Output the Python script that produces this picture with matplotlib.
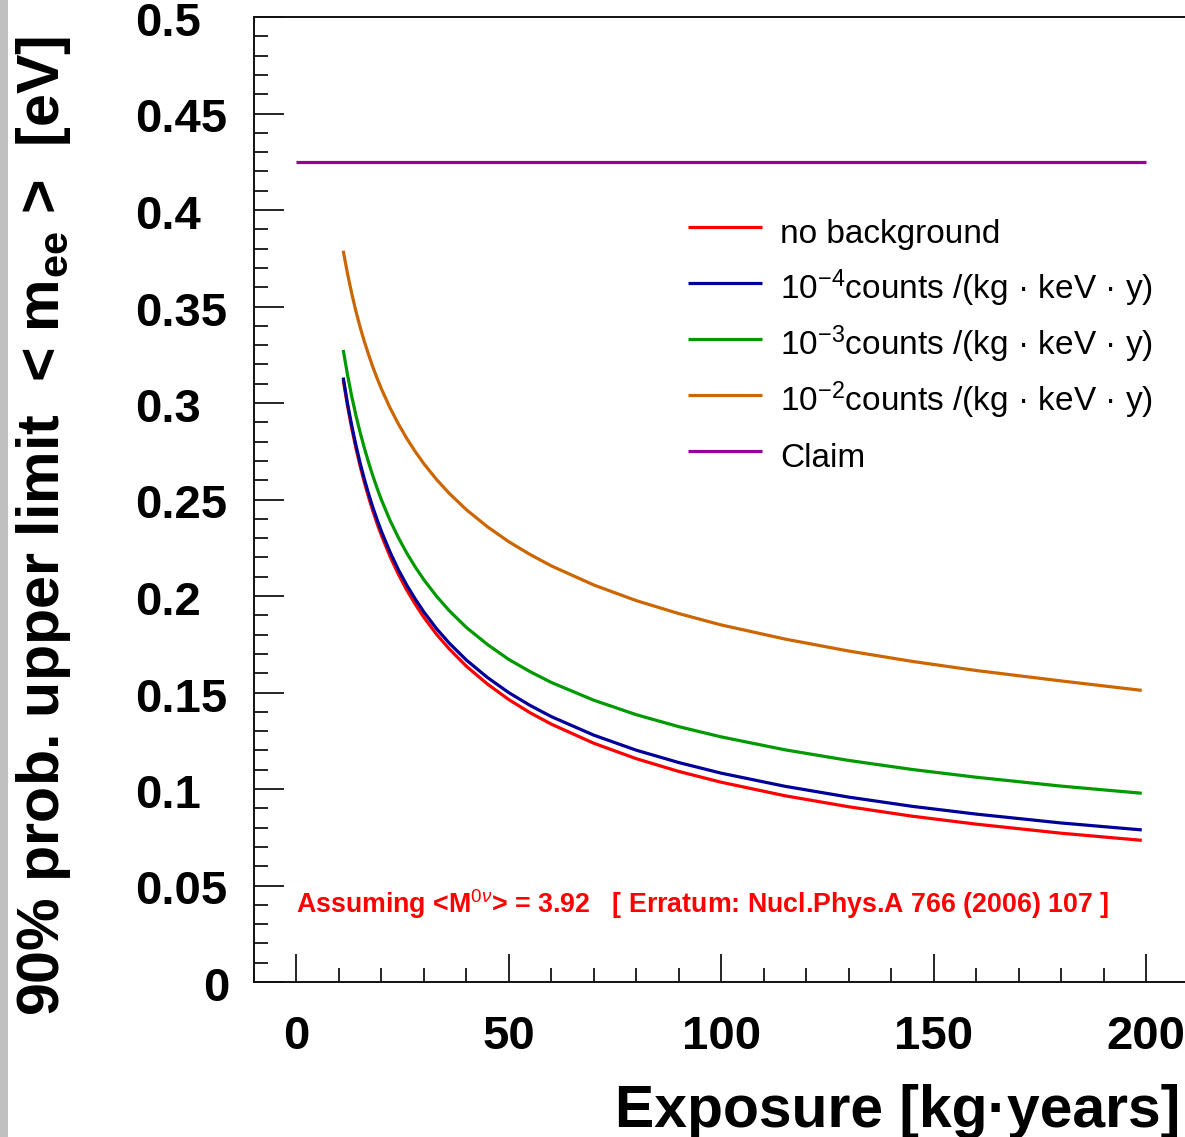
import matplotlib
matplotlib.use("Agg")
import matplotlib.pyplot as plt
import matplotlib.transforms as mtransforms
from matplotlib.patches import Rectangle
from matplotlib.ticker import MultipleLocator, FixedLocator

# ---------------- data ----------------
exposure = [11, 12, 13, 14, 15, 16, 17, 18, 19, 20, 22, 24, 26, 28, 30, 33, 36,
            40, 45, 50, 55, 60, 70, 80, 90, 100, 115, 130, 145, 160, 180, 199]
limit_no_bkg = [0.3120, 0.2987, 0.2870, 0.2766, 0.2672, 0.2587, 0.2510, 0.2439,
                0.2374, 0.2314, 0.2206, 0.2112, 0.2029, 0.1956, 0.1889, 0.1801,
                0.1725, 0.1636, 0.1543, 0.1463, 0.1395, 0.1336, 0.1237, 0.1157,
                0.1091, 0.1035, 0.0965, 0.0908, 0.0859, 0.0818, 0.0771, 0.0734]
limit_bkg_1e4 = [0.3132, 0.2999, 0.2884, 0.2781, 0.2688, 0.2604, 0.2528, 0.2458,
                 0.2394, 0.2335, 0.2229, 0.2136, 0.2055, 0.1983, 0.1917, 0.1830,
                 0.1755, 0.1668, 0.1577, 0.1499, 0.1433, 0.1375, 0.1279, 0.1201,
                 0.1137, 0.1082, 0.1014, 0.0958, 0.0910, 0.0870, 0.0824, 0.0788]
limit_bkg_1e3 = [0.3275, 0.3148, 0.3035, 0.2936, 0.2846, 0.2765, 0.2690, 0.2621,
                 0.2557, 0.2498, 0.2393, 0.2302, 0.2221, 0.2149, 0.2084, 0.1998,
                 0.1923, 0.1837, 0.1748, 0.1671, 0.1608, 0.1552, 0.1460, 0.1385,
                 0.1323, 0.1270, 0.1203, 0.1148, 0.1101, 0.1061, 0.1015, 0.0978]
limit_bkg_1e2 = [0.3789, 0.3672, 0.3568, 0.3475, 0.3392, 0.3317, 0.3249, 0.3185,
                 0.3127, 0.3073, 0.2976, 0.2891, 0.2815, 0.2747, 0.2685, 0.2603,
                 0.2531, 0.2447, 0.2358, 0.2281, 0.2215, 0.2156, 0.2057, 0.1976,
                 0.1909, 0.1850, 0.1777, 0.1715, 0.1661, 0.1614, 0.1560, 0.1511]
claim_exposure = [0, 200]
claim_limit = [0.425, 0.425]

series_labels = ["no background",
                 "10$^{-4}$counts /(kg · keV · y)",
                 "10$^{-3}$counts /(kg · keV · y)",
                 "10$^{-2}$counts /(kg · keV · y)",
                 "Claim"]
series_colors = ["#ff0000", "#000099", "#009900", "#cc6600", "#990099"]

x_ticks = [0, 50, 100, 150, 200]
x_tick_labels = ["0", "50", "100", "150", "200"]
y_ticks = [0, 0.05, 0.1, 0.15, 0.2, 0.25, 0.3, 0.35, 0.4, 0.45, 0.5]
y_tick_labels = ["0", "0.05", "0.1", "0.15", "0.2", "0.25", "0.3", "0.35",
                 "0.4", "0.45", "0.5"]

x_label = "Exposure [kg·years]"
y_label = r"90% prob. upper limit  < m$_{\mathbf{ee}}$ >  [eV]"
note = r"Assuming <M$^{0\nu}$> = 3.92   [ Erratum: Nucl.Phys.A 766 (2006) 107 ]"

# ---------------- style ----------------
plt.rcParams['font.family'] = ['Liberation Sans', 'DejaVu Sans']
plt.rcParams['mathtext.fontset'] = 'custom'
plt.rcParams['mathtext.rm'] = 'Liberation Sans'
plt.rcParams['mathtext.it'] = 'Liberation Sans:italic'
plt.rcParams['mathtext.bf'] = 'Liberation Sans:bold'

W, H = 1185, 1137
fig = plt.figure(figsize=(W / 100, H / 100), dpi=100)
fig.patches.append(Rectangle((0, 0), 7.5 / W, 1, transform=fig.transFigure,
                             facecolor="#c0c0c0", edgecolor="none", zorder=-5))

ax = fig.add_axes([254 / W, (H - 982) / H, (1188.5 - 254) / W, 965 / H])
ax.set_xlim(-10, 210)
ax.set_ylim(0, 0.5)

lw = 2.3
common = dict(lw=lw, solid_joinstyle="round", solid_capstyle="butt")
ax.plot(exposure, limit_no_bkg, color=series_colors[0], label=series_labels[0], **common)
ax.plot(exposure, limit_bkg_1e4, color=series_colors[1], label=series_labels[1], **common)
ax.plot(exposure, limit_bkg_1e3, color=series_colors[2], label=series_labels[2], **common)
ax.plot(exposure, limit_bkg_1e2, color=series_colors[3], label=series_labels[3], **common)
ax.plot(claim_exposure, claim_limit, color=series_colors[4], label=series_labels[4], **common)

for side in ["left", "bottom", "top", "right"]:
    ax.spines[side].set_linewidth(1.4)
    ax.spines[side].set_color("#111111")

ax.xaxis.set_major_locator(FixedLocator(x_ticks))
ax.xaxis.set_minor_locator(MultipleLocator(10))
ax.yaxis.set_major_locator(FixedLocator(y_ticks))
ax.yaxis.set_minor_locator(MultipleLocator(0.01))
ax.tick_params(axis="x", which="major", direction="in", length=20, width=1.2,
               pad=24, labelsize=34, top=False, bottom=True)
ax.tick_params(axis="x", which="minor", direction="in", length=10, width=1.2,
               top=False, bottom=True)
ax.tick_params(axis="y", which="major", direction="in", length=21.5, width=1.2,
               labelsize=34, left=True, right=False)
ax.tick_params(axis="y", which="minor", direction="in", length=10, width=1.2,
               left=True, right=False)
ax.set_xticklabels(x_tick_labels, fontweight="bold")
ax.set_yticklabels(y_tick_labels, fontweight="bold")

shift = mtransforms.ScaledTranslation(0, -7 / 100, fig.dpi_scale_trans)
for tick, lab in zip(ax.yaxis.get_major_ticks(), y_tick_labels):
    if lab == "0":
        tick.set_pad(18)
        tick.label1.set_horizontalalignment("right")
    else:
        tick.set_pad(85.7)
        tick.label1.set_horizontalalignment("left")
    tick.label1.set_verticalalignment("center")
    tick.label1.set_transform(tick.label1.get_transform() + shift)

ax.set_xlabel(x_label, fontsize=42.4, fontweight="bold", ha="right", va="baseline")
ax.xaxis.set_label_coords((1180 - 254) / 934.5, -(1127 - 982) / 965)
ax.set_ylabel(y_label, fontsize=42.6, fontweight="bold", ha="center", va="bottom")
ax.yaxis.set_label_coords((73 - 254) / 934.5, (982 - 526.5) / 965)

ax.text(0, 0.036, note, color="#ff0000", fontsize=19.3, fontweight="bold",
        ha="left", va="baseline")

leg = ax.legend(loc="upper left", bbox_to_anchor=((688 - 254) / 934.5, (982 - 211) / 965),
                frameon=False, fontsize=24, handlelength=2.22, handletextpad=0.54,
                handleheight=1.6, labelspacing=0.395, borderpad=0, borderaxespad=0)

fig.savefig("out.png", dpi=100)
